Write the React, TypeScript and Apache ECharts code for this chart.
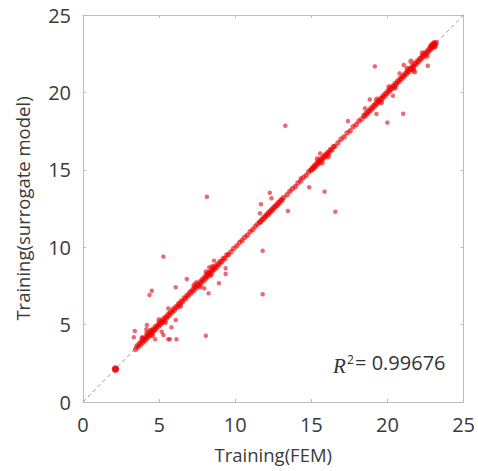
import React, { useEffect, useRef } from 'react';
import * as echarts from 'echarts';

const axisMin = 0;
const axisMax = 25;
const axisStep = 5;
const xAxisTitle = 'Training(FEM)';
const yAxisTitle = 'Training(surrogate model)';
const r2Symbol = 'R';
const r2Power = '2';
const r2Text = '= 0.99676';

const diagonal = [[0, 0], [25, 25]];

const lowPoint = [[2.15, 2.11], [2.12, 2.14]];

const nearLine = [
  [3.45, 3.40], [3.55, 3.62], [3.62, 3.55], [3.70, 3.78], [3.78, 3.70], [3.85, 3.95], [3.92, 3.85],
  [4.00, 4.08], [4.05, 3.96], [4.12, 4.20], [4.18, 4.10], [4.25, 4.32], [4.30, 4.22], [4.38, 4.45],
  [4.44, 4.35], [4.50, 4.60], [4.56, 4.48], [4.62, 4.70], [4.68, 4.62], [4.75, 4.85], [4.80, 4.72],
  [4.88, 4.95], [4.95, 4.88], [5.02, 5.10], [5.08, 5.00], [5.15, 5.22], [5.22, 5.15], [5.30, 5.38],
  [5.36, 5.28], [5.44, 5.50], [5.52, 5.45], [5.60, 5.68], [5.68, 5.60], [5.76, 5.82], [5.84, 5.78],
  [5.92, 6.00], [6.00, 5.92], [6.10, 6.15], [6.18, 6.12], [6.28, 6.35], [6.36, 6.30], [6.45, 6.52],
  [6.55, 6.48], [6.65, 6.72], [6.74, 6.68], [6.84, 6.90], [6.92, 6.86], [7.02, 7.10], [7.10, 7.04],
  [7.20, 7.26], [7.28, 7.20], [7.36, 7.44], [7.44, 7.38], [7.52, 7.60], [7.60, 7.52], [7.68, 7.76],
  [7.76, 7.70], [7.84, 7.92], [7.92, 7.84], [8.00, 8.08], [8.06, 7.98], [8.14, 8.22], [8.20, 8.12],
  [8.28, 8.36], [8.34, 8.26], [8.42, 8.50], [8.48, 8.40], [8.56, 8.62], [8.62, 8.56], [8.70, 8.78],
  [8.78, 8.70], [8.86, 8.92], [8.94, 8.88], [9.02, 9.08], [9.12, 9.06], [9.22, 9.28], [9.32, 9.26],
  [9.45, 9.50], [9.55, 9.52],
  [4.20, 4.45], [4.55, 4.30], [5.00, 5.30], [5.40, 5.15], [6.40, 6.20], [7.30, 7.55], [7.70, 7.45],
  [8.10, 8.40], [8.40, 8.20], [8.50, 8.75], [3.90, 4.10], [4.40, 4.60],
  [9.72, 9.70], [9.90, 9.92], [10.10, 10.08], [10.28, 10.30], [10.45, 10.44], [10.62, 10.64],
  [10.80, 10.78], [10.98, 11.00], [11.15, 11.14], [11.32, 11.35], [11.48, 11.50],
  [11.60, 11.62], [11.68, 11.64], [11.76, 11.80], [11.84, 11.80], [11.92, 11.96], [12.00, 11.96],
  [12.08, 12.12], [12.15, 12.10], [12.22, 12.28], [12.30, 12.25], [12.38, 12.42], [12.45, 12.40],
  [12.52, 12.58], [12.60, 12.55], [12.68, 12.72], [12.76, 12.70], [12.84, 12.90], [12.92, 12.86],
  [13.00, 13.05], [13.08, 13.04], [13.16, 13.20],
  [13.40, 13.38], [13.58, 13.60], [13.76, 13.78], [13.95, 13.92], [14.12, 14.15], [14.30, 14.28],
  [14.48, 14.50], [14.66, 14.64], [14.82, 14.86],
  [14.95, 14.98], [15.02, 15.00], [15.08, 15.14], [15.15, 15.10], [15.22, 15.28], [15.28, 15.22],
  [15.35, 15.42], [15.42, 15.36], [15.50, 15.56], [15.56, 15.50], [15.64, 15.70], [15.70, 15.64],
  [15.78, 15.84], [15.85, 15.80], [15.92, 15.98], [16.00, 15.94], [16.08, 16.12], [16.16, 16.10],
  [16.25, 16.30], [16.34, 16.28], [16.45, 16.50], [16.55, 16.52],
  [15.40, 15.70], [15.70, 15.45], [16.10, 15.85],
  [16.75, 16.74], [16.95, 16.98], [17.15, 17.12], [17.35, 17.38], [17.55, 17.52], [17.75, 17.78],
  [17.95, 17.92], [18.12, 18.15], [18.30, 18.28],
  [18.45, 18.50], [18.52, 18.46], [18.60, 18.66], [18.68, 18.62], [18.76, 18.82], [18.84, 18.78],
  [18.92, 18.98], [19.00, 18.94], [19.08, 19.14], [19.16, 19.10], [19.24, 19.30], [19.32, 19.26],
  [19.40, 19.46], [19.48, 19.42], [19.56, 19.62], [19.64, 19.58], [19.72, 19.78], [19.80, 19.74],
  [19.88, 19.94], [19.96, 19.90], [20.04, 20.10], [20.12, 20.06], [20.20, 20.26], [20.28, 20.22],
  [20.36, 20.42], [20.44, 20.38], [20.52, 20.58], [20.60, 20.54], [20.68, 20.74], [20.76, 20.70],
  [20.84, 20.90], [20.92, 20.86], [21.00, 21.06], [21.08, 21.02], [21.16, 21.22], [21.24, 21.18],
  [21.32, 21.38], [21.40, 21.34], [21.48, 21.54], [21.56, 21.50], [21.64, 21.70], [21.72, 21.66],
  [21.80, 21.86], [21.88, 21.82], [21.96, 22.02], [22.04, 21.98], [22.12, 22.18], [22.20, 22.14],
  [22.28, 22.34], [22.36, 22.30], [22.44, 22.50], [22.52, 22.46], [22.60, 22.66], [22.68, 22.62],
  [22.75, 22.82], [22.82, 22.76], [22.88, 22.95], [22.94, 22.88], [23.00, 23.06], [23.05, 22.98],
  [23.10, 23.15], [23.15, 23.08], [23.20, 23.22], [22.95, 23.10], [23.05, 23.20], [23.12, 22.95],
  [22.85, 23.00],
  [19.30, 19.55], [19.60, 19.35], [20.10, 20.35], [20.50, 20.30], [21.30, 21.55], [21.70, 21.45],
  [22.30, 22.55], [22.60, 22.35], [21.77, 21.34], [21.55, 22.01],
];

const outliers = [
  [5.28, 9.39], [4.52, 7.19], [4.37, 6.91], [6.09, 7.41], [6.82, 7.95], [7.43, 7.73], [7.97, 7.34],
  [8.25, 7.02], [8.93, 7.67], [8.29, 8.70], [8.61, 9.13], [9.37, 8.64], [9.37, 8.27],
  [5.60, 6.05], [6.09, 5.30], [5.81, 4.82], [5.17, 4.54], [5.28, 4.33], [3.40, 4.59], [3.34, 4.18],
  [4.20, 4.97], [4.16, 4.70], [4.74, 4.05], [5.60, 4.05], [5.71, 4.05], [6.14, 4.05], [8.07, 4.28],
  [3.88, 4.18],
  [8.14, 13.26], [11.80, 9.77], [11.80, 6.96],
  [11.69, 12.77], [11.63, 12.19], [12.27, 13.52], [12.38, 13.16], [13.46, 12.34], [14.86, 13.87],
  [14.32, 14.45], [15.87, 13.59], [16.58, 12.29], [15.58, 16.06],
  [13.29, 17.85], [17.40, 18.15], [18.52, 18.97], [18.84, 19.54], [19.28, 18.60], [19.99, 18.05],
  [20.36, 19.78], [21.03, 18.62], [19.17, 21.68], [20.80, 21.23], [21.07, 21.77], [22.65, 21.72],
];

const fontFamily = '"Open Sans", "Noto Sans", sans-serif';
const boxColor = '#bdbdbd';
const labelColor = '#3a3a3a';

export default function App() {
  const ref = useRef<HTMLDivElement>(null);

  useEffect(() => {
    if (!ref.current) return;
    const chart = echarts.init(ref.current, null, { renderer: 'svg' });

    const axisCommon = {
      type: 'value' as const,
      min: axisMin,
      max: axisMax,
      interval: axisStep,
      axisLine: { show: true, onZero: false, lineStyle: { color: boxColor, width: 1 } },
      axisTick: { show: true, inside: true, length: 3, lineStyle: { color: boxColor } },
      splitLine: { show: false },
    };

    chart.setOption({
      animation: false,
      backgroundColor: '#ffffff',
      grid: { left: 83, top: 15, width: 387, height: 387, containLabel: false },
      xAxis: [
        {
          ...axisCommon,
          position: 'bottom',
          axisLabel: { color: labelColor, fontSize: 20, margin: 12, fontFamily },
          name: xAxisTitle,
          nameLocation: 'middle',
          nameGap: 43,
          nameTextStyle: { color: labelColor, fontSize: 18.5, fontFamily },
        },
        { ...axisCommon, position: 'top', axisLabel: { show: false } },
      ],
      yAxis: [
        {
          ...axisCommon,
          position: 'left',
          axisLabel: { color: labelColor, fontSize: 20, margin: 12, fontFamily },
          name: yAxisTitle,
          nameLocation: 'middle',
          nameGap: 51,
          nameRotate: 90,
          nameTextStyle: { color: labelColor, fontSize: 18.5, fontFamily },
        },
        { ...axisCommon, position: 'right', axisLabel: { show: false } },
      ],
      series: [
        {
          type: 'line',
          data: diagonal,
          symbol: 'none',
          silent: true,
          lineStyle: { color: '#9a9a9a', width: 1, type: [4, 3] },
          z: 1,
        },
        {
          type: 'scatter',
          data: nearLine,
          symbol: 'circle',
          symbolSize: 5.5,
          itemStyle: { color: 'rgba(240, 0, 0, 0.8)' },
          z: 2,
        },
        {
          type: 'scatter',
          data: outliers,
          symbol: 'circle',
          symbolSize: 4.5,
          itemStyle: { color: 'rgba(225, 20, 40, 0.8)' },
          z: 2,
        },
        {
          type: 'scatter',
          data: lowPoint,
          symbol: 'circle',
          symbolSize: 7,
          itemStyle: { color: 'rgba(230, 0, 10, 0.9)' },
          z: 2,
        },
      ],
      graphic: [
        {
          type: 'text',
          left: 333,
          top: 355,
          style: {
            text: r2Symbol,
            fontFamily: '"Liberation Serif", "DejaVu Serif", serif',
            fontStyle: 'italic',
            fontSize: 21,
            fill: '#333',
          },
        },
        {
          type: 'text',
          left: 347,
          top: 353,
          style: { text: r2Power, fontFamily, fontSize: 12, fill: '#333' },
        },
        {
          type: 'text',
          left: 355,
          top: 352,
          style: { text: r2Text, fontFamily, fontSize: 20, fill: '#333' },
        },
      ],
    });

    return () => chart.dispose();
  }, []);

  return (
    <div
      ref={ref}
      style={{ position: 'fixed', left: 0, top: 0, width: 478, height: 471, background: '#fff' }}
    />
  );
}
